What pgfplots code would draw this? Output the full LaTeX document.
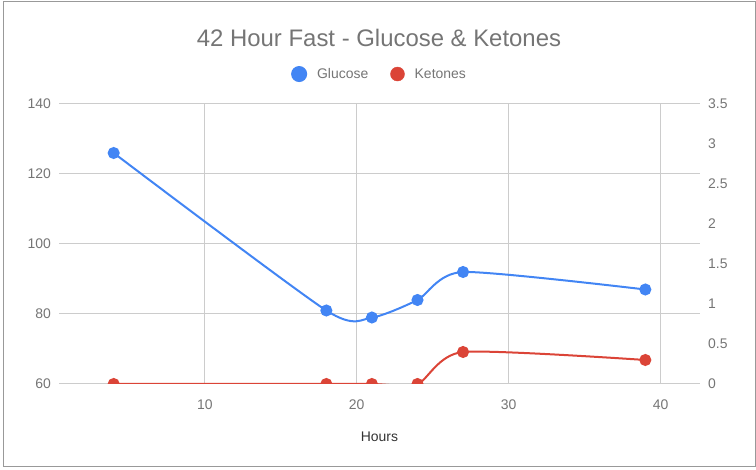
\documentclass[border=0pt]{standalone}
\usepackage{pgfplots}
\pgfplotsset{compat=1.18}
\usepackage{fontspec}
\setmainfont{Liberation Sans}
\definecolor{gblue}{HTML}{4285F4}
\definecolor{gred}{HTML}{DB4437}
\definecolor{txt}{HTML}{757575}
\definecolor{gridc}{HTML}{CCCCCC}

\begin{document}
\begin{tikzpicture}[x=1bp,y=1bp]
  \path (0,0) rectangle (756,470);
  \draw[color=black!40, line width=1bp] (3,3) rectangle (755,468);
  \node[text=txt, font=\fontsize{24}{27}\selectfont] at (379,432) {42 Hour Fast - Glucose \& Ketones};

  \begin{axis}[
      at={(59bp,86bp)}, anchor=south west,
      scale only axis, width=641bp, height=280bp,
      xmin=0.4, xmax=42.6, ymin=60, ymax=140,
      xtick={10,20,30,40}, ytick={60,80,...,140},
      axis line style={draw=none},
      major tick length=0pt,
      grid=major,
      grid style={gridc, line width=1bp},
      /pgf/number format/assume math mode=true,
      tick label style={font=\fontsize{14}{16}\selectfont, text=txt},
      xticklabel style={anchor=center, yshift=-21bp},
      yticklabel style={anchor=east, inner sep=0pt, xshift=-8bp},
      xlabel={Hours},
      xlabel style={at={(axis description cs:0.5,-0.189)}, anchor=center, font=\fontsize{14}{16}\selectfont, text=black!80},
      legend columns=2,
      legend style={at={(axis description cs:0.5,1.107)}, anchor=center, draw=none,
        font=\fontsize{14}{16}\selectfont, text=txt,
        /tikz/every even column/.append style={column sep=20bp}},
      legend image code/.code={\fill (0,0) circle (7bp); \path (15bp,0);},
    ]
    \addplot[gblue, line width=2bp, smooth, tension=0.4, mark=*, mark size=5bp,
      mark options={fill=gblue, draw=gblue}] coordinates {
      (4,126) (18,81) (21,79) (24,84) (27,92) (39,87)
    };
    \addlegendentry{Glucose}
    \addlegendimage{gred}
    \addlegendentry{Ketones}
  \end{axis}

  \begin{axis}[
      at={(59bp,86bp)}, anchor=south west,
      scale only axis, width=641bp, height=280bp,
      xmin=0.4, xmax=42.6, ymin=0, ymax=3.5,
      ytick={0,0.5,...,3.5},
      axis y line*=right,
      hide x axis,
      axis line style={draw=none},
      major tick length=0pt,
      clip marker paths=true,
      /pgf/number format/assume math mode=true,
      tick label style={font=\fontsize{14}{16}\selectfont, text=txt},
      yticklabel style={anchor=west, inner sep=0pt, xshift=8bp},
    ]
    \addplot[gred, line width=2bp, smooth, tension=0.4, mark=*, mark size=5bp,
      mark options={fill=gred, draw=gred}] coordinates {
      (4,0) (18,0) (21,0) (24,0) (27,0.4) (39,0.3)
    };
  \end{axis}
\end{tikzpicture}
\end{document}
